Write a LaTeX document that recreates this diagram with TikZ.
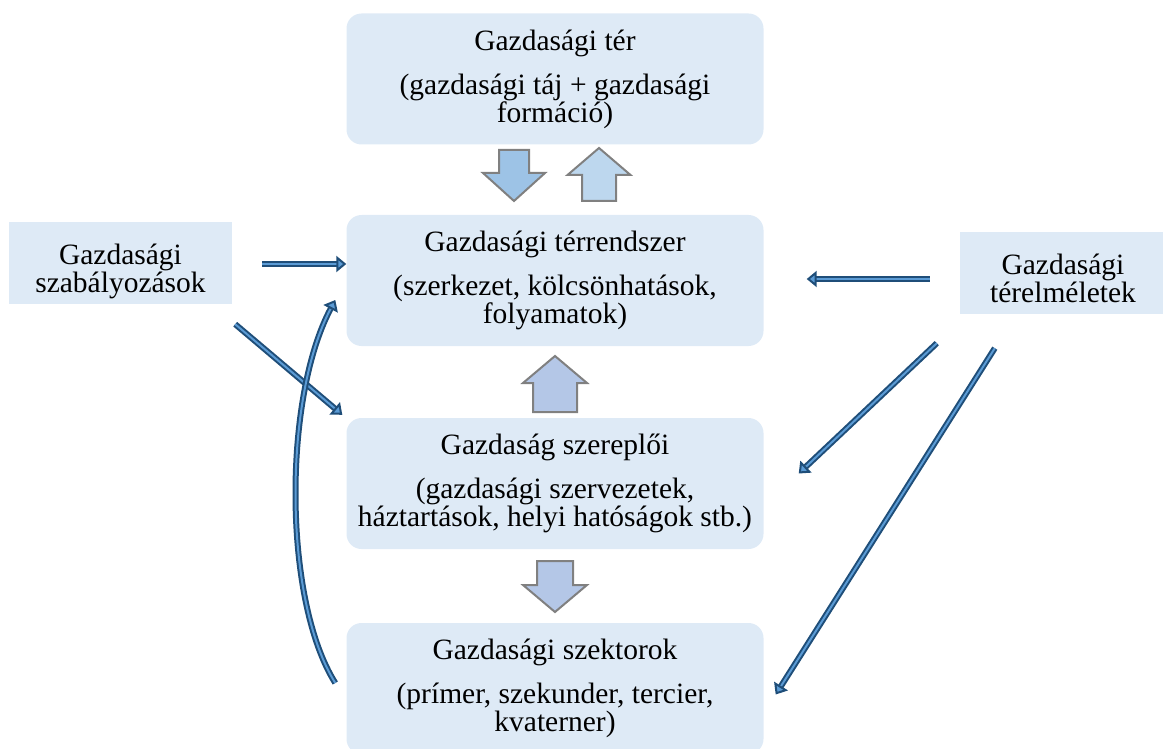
\documentclass[tikz,border=0pt]{standalone}
\usepackage{fontspec}
\setmainfont{Liberation Serif}
\usetikzlibrary{arrows.meta,calc}
\definecolor{boxfill}{RGB}{222,234,246}
\definecolor{flowdark}{RGB}{31,78,121}
\definecolor{flowlight}{RGB}{91,155,213}
\definecolor{arrowgray}{RGB}{128,128,128}
\definecolor{downfill}{RGB}{157,195,230}
\definecolor{upfill}{RGB}{189,215,238}
\definecolor{midfill}{RGB}{180,199,231}
\tikzset{
  mainbox/.style={fill=boxfill, rounded corners=15pt, minimum width=417pt,
    minimum height=131pt, align=center, inner sep=0pt,
    font=\fontsize{29.5}{28}\selectfont},
  sidebox/.style={fill=boxfill, minimum height=82pt, align=center, inner sep=0pt,
    font=\fontsize{29.5}{28}\selectfont},
  blockarrow/.style={draw=arrowgray, line width=2pt, line join=miter},
  flow/.style={draw=flowdark, double=flowlight, line width=2pt, double distance=2pt,
    -{Triangle[length=10pt,width=16pt,fill=flowlight]}}
}
\begin{document}
\begin{tikzpicture}[x=1pt,y=-1pt]
\useasboundingbox (0,0) rectangle (1163,749);

% boxes
\node[mainbox] (ter) at (555,79) {Gazdasági tér\\[16pt](gazdasági táj + gazdasági\\formáció)};
\node[mainbox] (rendszer) at (555,280.5) {Gazdasági térrendszer\\[16pt](szerkezet, kölcsönhatások,\\folyamatok)};
\node[mainbox] (szereplok) at (555,483.5) {Gazdaság szereplői\\[16pt](gazdasági szervezetek,\\háztartások, helyi hatóságok stb.)};
\node[mainbox] (szektorok) at (555,688.5) {Gazdasági szektorok\\[16pt](prímer, szekunder, tercier,\\kvaterner)};
\node[sidebox, minimum width=223pt] (regul) at (120.5,263) {\rule{0pt}{38pt}Gazdasági\\szabályozások};
\node[sidebox, minimum width=206pt] (elmelet) at (1063,273) {\rule{0pt}{32pt}Gazdasági\\térelméletek};

% block arrows
\draw[blockarrow, fill=downfill] (499,150) -- (529,150) -- (529,173) -- (545,173) -- (514,201) -- (483,173) -- (499,173) -- cycle;
\draw[blockarrow, fill=upfill] (582,201) -- (616,201) -- (616,175) -- (630.5,175) -- (599,148) -- (567.5,175) -- (582,175) -- cycle;
\draw[blockarrow, fill=midfill] (533,412) -- (577,412) -- (577,383) -- (587,383) -- (555,356) -- (523,383) -- (533,383) -- cycle;
\draw[blockarrow, fill=midfill] (537,561) -- (573,561) -- (573,585) -- (587,585) -- (555,612) -- (523,585) -- (537,585) -- cycle;

% connectors
\draw[flow] ($(regul.east)+(30,1)$) -- ($(rendszer.west)+(0,-16.5)$);
\draw[flow] ($(elmelet.west)+(-30,6)$) -- ($(rendszer.east)+(43,-1.5)$);
\draw[flow] ($(regul.south east)+(3,20)$) -- ($(szereplok.north west)+(-4,-3)$);
\draw[flow] ($(elmelet.south west)+(-23,29)$) -- ($(szereplok.east)+(35,-10)$);
\draw[flow] ($(elmelet.south west)+(35,34)$) -- ($(szektorok.east)+(12,6)$);
\draw[flow] ($(szektorok.west)+(-11,-5.5)$) .. controls (283,600) and (283,398) .. ($(rendszer.west)+(-11,19.5)$);
\end{tikzpicture}
\end{document}
